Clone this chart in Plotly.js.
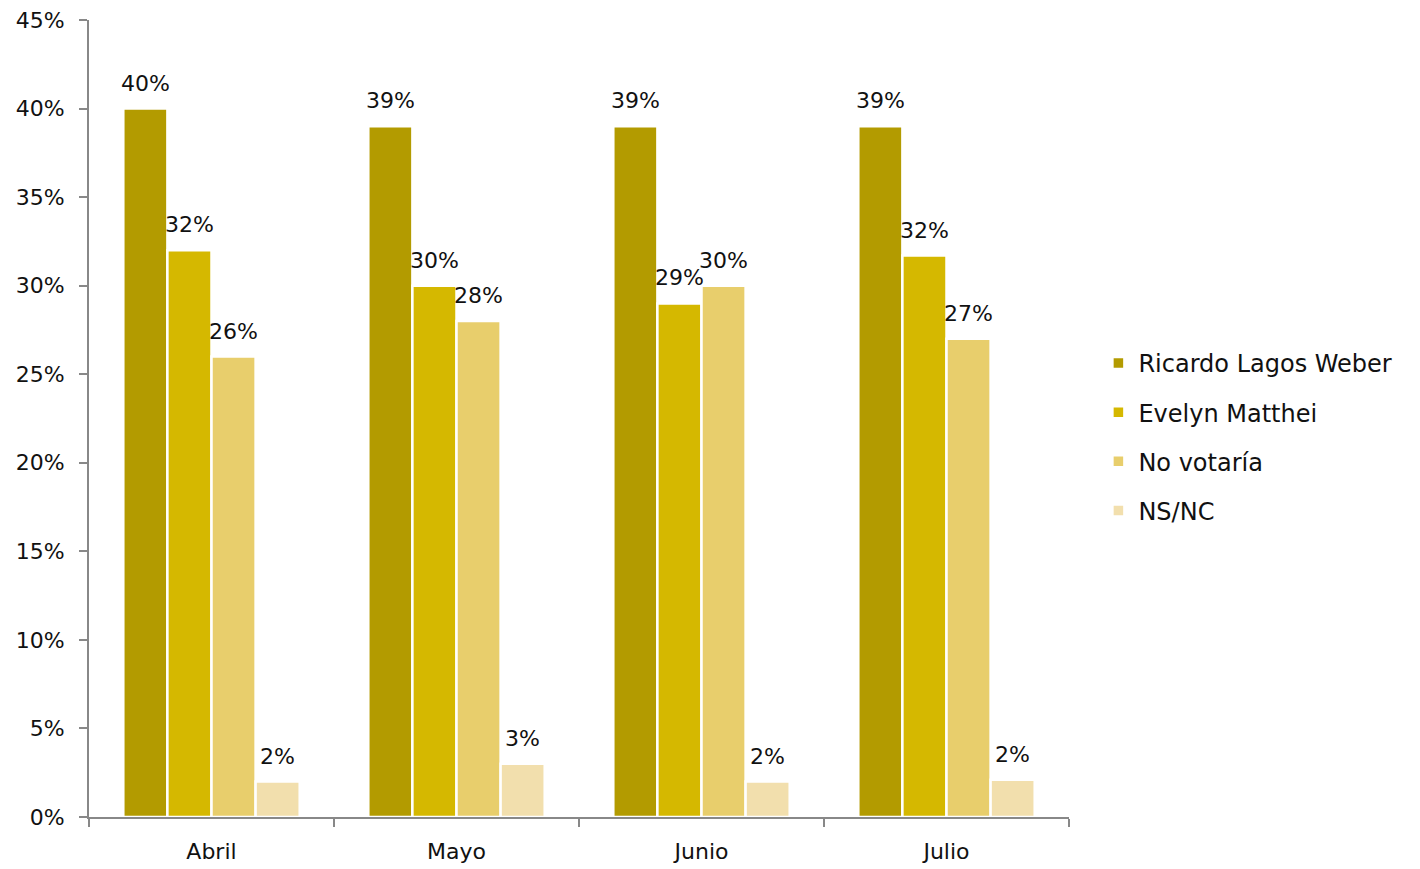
<!DOCTYPE html>
<html>
<head>
<meta charset="utf-8">
<script src="https://cdn.plot.ly/plotly-3.0.1.min.js"></script>
<style>html,body{margin:0;padding:0;background:#fff;}#chart{width:1420px;height:869px;}</style>
</head>
<body>
<div id="chart"></div>
<script>
const categories = ['Abril', 'Mayo', 'Junio', 'Julio'];
const seriesNames = ['Ricardo Lagos Weber', 'Evelyn Matthei', 'No votaría', 'NS/NC'];
const ricardo = [40, 39, 39, 39];
const evelyn = [32, 30, 29, 31.7];
const noVotaria = [26, 28, 30, 27];
const nsnc = [2, 3, 2, 2.1];
const yTicks = [0, 5, 10, 15, 20, 25, 30, 35, 40, 45];
const yTickLabels = ['0%', '5%', '10%', '15%', '20%', '25%', '30%', '35%', '40%', '45%'];

const allSeries = [ricardo, evelyn, noVotaria, nsnc];
const colors = ['#B39B00', '#D5B800', '#E8CE6C', '#F2DFAD'];
const FONT = '"DejaVu Sans", sans-serif';
const bargap = 0.28;

const traces = allSeries.map((vals, j) => ({
  type: 'bar',
  name: seriesNames[j],
  x: categories,
  y: vals,
  marker: {color: colors[j], line: {color: '#ffffff', width: 2.5}},
  legendgroup: 'g' + j,
  hoverinfo: 'skip'
}));

const annotations = [];
const n = allSeries.length;
const slot = (1 - bargap) / n;
allSeries.forEach((vals, j) => {
  vals.forEach((v, i) => {
    annotations.push({
      x: i + (j - (n - 1) / 2) * slot,
      y: v,
      xref: 'x', yref: 'y',
      text: Math.round(v) + '%',
      showarrow: false,
      yanchor: 'bottom',
      yshift: 11,
      font: {family: FONT, size: 22, color: '#111'}
    });
  });
});

const layout = {
  width: 1420, height: 869,
  margin: {l: 89, r: 351, t: 20, b: 52},
  paper_bgcolor: '#fff', plot_bgcolor: '#fff',
  barmode: 'group', bargap: bargap, bargroupgap: 0,
  font: {family: FONT, size: 22, color: '#111'},
  showlegend: true,
  legend: {x: 1.03, xanchor: 'left', y: 0.477, yanchor: 'middle', font: {family: FONT, size: 24, color: '#111'}, tracegroupgap: 15, itemwidth: 30},
  xaxis: {
    type: 'category',
    showline: true, linecolor: '#888', linewidth: 2,
    ticks: 'outside', tickson: 'boundaries', ticklen: 8, tickwidth: 2, tickcolor: '#888',
    showgrid: false, zeroline: false, ticklabelstandoff: 14,
    tickfont: {family: FONT, size: 22, color: '#111'}
  },
  yaxis: {
    range: [0, 45], tickvals: yTicks, ticktext: yTickLabels,
    showline: true, linecolor: '#888', linewidth: 2,
    ticks: 'outside', ticklen: 8, tickwidth: 2, tickcolor: '#888',
    showgrid: false, zeroline: false, ticklabelstandoff: 10,
    tickfont: {family: FONT, size: 22, color: '#111'}
  },
  annotations: annotations
};

Plotly.newPlot('chart', traces, layout, {staticPlot: true, displayModeBar: false});
</script>
</body>
</html>
